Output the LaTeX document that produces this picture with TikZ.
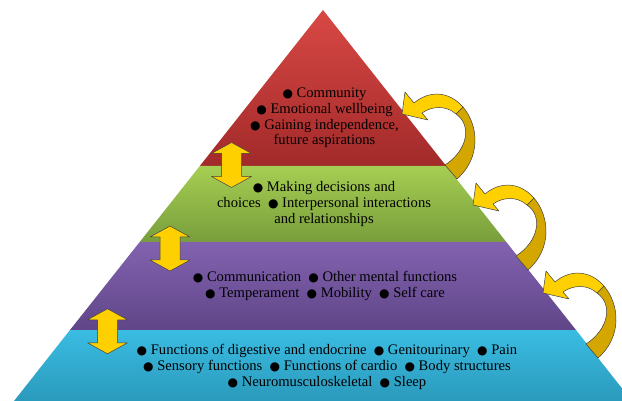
\documentclass[tikz,border=0pt]{standalone}
\usepackage{fontspec}
\setmainfont{Liberation Serif}
\newfontfamily\dejavu{DejaVu Sans}
\usetikzlibrary{positioning}
\newcommand{\bul}{{\dejavu\fontsize{12}{12}\selectfont ●}}
\definecolor{redtop}{RGB}{216,72,68}
\definecolor{redbot}{RGB}{162,42,42}
\definecolor{greentop}{RGB}{166,206,82}
\definecolor{greenbot}{RGB}{120,158,60}
\definecolor{purpletop}{RGB}{130,98,176}
\definecolor{purplebot}{RGB}{96,70,136}
\definecolor{cyantop}{RGB}{58,188,226}
\definecolor{cyanbot}{RGB}{42,154,188}
\definecolor{goldlight}{RGB}{255,208,0}
\definecolor{golddark}{RGB}{212,166,0}
\tikzset{
	layertext/.style={align=center, font=\fontsize{14.6}{15.6}\selectfont, inner sep=0pt},
	arrowline/.style={draw=black!75, line width=0.5pt, line join=round},
	pics/updown/.style={code={
		\draw[arrowline, fill=goldlight] (0,-22.5) -- (20,-11.5) -- (10,-11.5) -- (10,11.5) -- (20,11.5)
			-- (0,22.5) -- (-20,11.5) -- (-10,11.5) -- (-10,-11.5) -- (-20,-11.5) -- cycle;
	}},
	pics/bendarrow/.style={code={
		% back part of the band
		\draw[arrowline, fill=golddark] (61,-7) .. controls (77,12) and (79,44) .. (55,65) -- (43,51)
			.. controls (66,36) and (70,11) .. (54,0) -- cycle;
		% front part with the head
		\draw[arrowline, fill=goldlight] (12,-11) -- (3,-22) -- (0,0) -- (26,6) -- (20,-1)
			.. controls (30,-8) and (44,-9) .. (54,0) -- (61,-7)
			.. controls (46,-24) and (26,-23) .. (12,-11) -- cycle;
	}}
}

\begin{document}
\begin{tikzpicture}[x=1pt, y=-1pt]
	\useasboundingbox (0,0) rectangle (622,401);
	% Pyramid layers
	\begin{scope}
		\clip (0,0) rectangle (622,401); % Clip to the picture
		\shade[top color=redtop, bottom color=redbot] (323,10) -- (446.2,166) -- (199.8,166) -- cycle;
		\shade[top color=greentop, bottom color=greenbot] (199.8,166) -- (446.2,166) -- (506.3,242) -- (139.7,242) -- cycle;
		\shade[top color=purpletop, bottom color=purplebot] (139.7,242) -- (506.3,242) -- (576,330) -- (70,330) -- cycle;
		\shade[top color=cyantop, bottom color=cyanbot] (70,330) -- (576,330) -- (632,401) -- (14,401) -- cycle;
	\end{scope}
	
	% Texts of the layers
	\node[layertext] (social) at (324.5,118) {\bul\ Community\\ \bul\ Emotional wellbeing\\ \bul\ Gaining independence,\\ future aspirations};
	\node[layertext] (activity) at (324,204) {\bul\ Making decisions and\\ choices \ \bul\ Interpersonal interactions\\ and relationships};
	\node[layertext] (mental) at (325,286) {\bul\ Communication \ \bul\ Other mental functions\\ \bul\ Temperament \ \bul\ Mobility \ \bul\ Self care};
	\node[layertext] (body) at (327,367) {\bul\ Functions of digestive and endocrine \ \bul\ Genitourinary \ \bul\ Pain\\ \bul\ Sensory functions \ \bul\ Functions of cardio \ \bul\ Body structures\\ \bul\ Neuromusculoskeletal \ \bul\ Sleep};
	
	% Arrows between layers
	\pic at (231.5,165) {updown};
	\pic at (170,248.5) {updown};
	\pic at (107.5,331.3) {updown};
	
	% Curved arrows on the right side
	\pic at (402,114) {bendarrow};
	\pic at (473,205) {bendarrow};
	\pic at (543,293) {bendarrow};
\end{tikzpicture}
\end{document}
